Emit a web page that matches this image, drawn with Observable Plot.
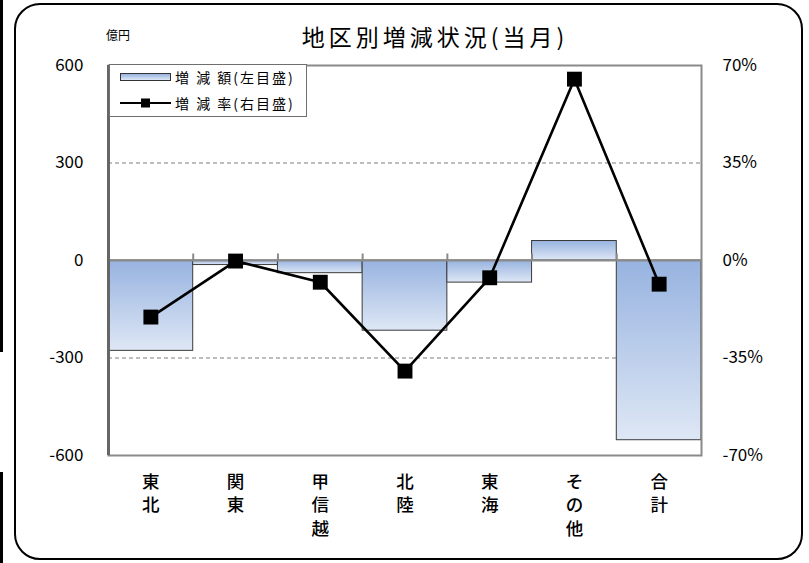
<!DOCTYPE html>
<html>
<head>
<meta charset="utf-8">
<script src="https://cdn.jsdelivr.net/npm/d3@7"></script>
<script src="https://cdn.jsdelivr.net/npm/@observablehq/plot@0.6"></script>
<style>
  body { margin: 0; background: #fff; }
  #wrap { position: relative; width: 809px; height: 563px; font-family: "Noto Sans CJK JP", sans-serif; color: #000; overflow: hidden; }
  #wrap svg.chart { position: absolute; left: 0; top: 0; }
  .edge { position: absolute; left: 0; width: 3px; background: #000; }
  #box { position: absolute; left: 14px; top: 3px; width: 789px; height: 557px; box-sizing: border-box; border: 2px solid #000; border-radius: 26px; }
  #title { position: absolute; left: 0; width: 870px; top: 21px; text-align: center; font-size: 23px; font-weight: 400; letter-spacing: 4px; line-height: 30px; }
  #unit { position: absolute; left: 106px; top: 26px; font-size: 12px; }
  #legend { position: absolute; left: 109px; top: 64px; width: 198px; height: 53px; box-sizing: border-box; border: 1px solid #6f6f6f; background: #fff; font-size: 14px; }
  .row { position: absolute; left: 10px; display: flex; align-items: center; height: 20px; }
  .row span { margin-left: 4px; white-space: pre; letter-spacing: 2px; }
  .sw { width: 49px; height: 6px; border: 1px solid #333; background: linear-gradient(#97b3e0, #dee7f5); }
  svg.chart g[aria-label="x-axis tick label"] { font-weight: 500; }
</style>
</head>
<body>
<div id="wrap">
  <div class="edge" style="top:0;height:352px"></div>
  <div class="edge" style="top:472px;height:91px"></div>
  <div id="box"></div>
  <div id="unit">億円</div>
  <div id="title">地区別増減状況(当月)</div>
</div>
<script>
// Regions and monthly change: amount (億円, left scale) and rate (%, right scale)
const regions = ["東北", "関東", "甲信越", "北陸", "東海", "その他", "合計"];
const amounts = [-278, -14, -39, -216, -68, 60, -553];
const rates = [-20.3, -0.2, -7.8, -39.7, -6.2, 65.1, -8.5];
const leftTicks = [600, 300, 0, -300, -600];
const rightTicks = ["70%", "35%", "0%", "-35%", "-70%"];
const legendLabels = ["増 減 額(左目盛)", "増 減 率(右目盛)"];

// right scale 70% corresponds to left scale 600
const rateToAmount = 600 / 70;
const rows = regions.map((r, i) => ({region: r, amount: amounts[i], rate: rates[i], rateY: rates[i] * rateToAmount}));

const W = 809, H = 563, mL = 108, mR = 108, mT = 65, mB = 108;
const bw = (W - mL - mR) / regions.length;
const font = "'Noto Sans CJK JP', sans-serif";

const chart = Plot.plot({
  width: W,
  height: H,
  marginLeft: mL,
  marginRight: mR,
  marginTop: mT,
  marginBottom: mB,
  x: {type: "band", domain: regions, padding: 0, round: false, label: null},
  y: {domain: [-600, 600], label: null},
  style: {fontFamily: font, fontSize: "16px", color: "#000", background: "transparent", overflow: "visible"},
  marks: [
    Plot.ruleY([300, -300], {stroke: "#7f7f7f", strokeWidth: 1.2, strokeDasharray: "4,3"}),
    Plot.barY(rows, {x: "region", y: "amount", fill: "url(#barGrad)", stroke: "#3a3a3a", strokeWidth: 1}),
    Plot.ruleY([0], {stroke: "#8a8a8a", strokeWidth: 2}),
    // category separators rising above the zero line
    Plot.ruleX(regions, {x: d => d, y1: 0, y2: 20, dx: -bw / 2, stroke: "#8a8a8a", strokeWidth: 2}),
    Plot.frame({stroke: "#8a8a8a", strokeWidth: 2}),
    Plot.ruleX([regions[0]], {x: d => d, dx: -bw / 2, stroke: "#666", strokeWidth: 3}),
    Plot.axisY({ticks: leftTicks, tickSize: 0, tickPadding: 25, tickFormat: d => String(d), fontSize: 17, label: null}),
    Plot.axisY({anchor: "right", ticks: leftTicks, tickSize: 0, tickPadding: 21,
      tickFormat: d => rightTicks[leftTicks.indexOf(d)], fontSize: 17, label: null}),
    Plot.axisX({tickSize: 0, tickPadding: 15.5, fontSize: 17.5, lineHeight: 1.35, label: null,
      tickFormat: d => [...d].join("\n")}),
    Plot.line(rows, {x: "region", y: "rateY", stroke: "#000", strokeWidth: 2.6}),
    Plot.dot(rows, {x: "region", y: "rateY", symbol: "square", r: 8.4, fill: "#000", stroke: "none"})
  ]
});
chart.classList.add("chart");

// vertical gradient used by the bars
const defs = d3.select(chart).insert("defs", ":first-child");
const grad = defs.append("linearGradient").attr("id", "barGrad")
  .attr("x1", 0).attr("y1", 0).attr("x2", 0).attr("y2", 1);
grad.append("stop").attr("offset", "0%").attr("stop-color", "#97b3e0");
grad.append("stop").attr("offset", "100%").attr("stop-color", "#dee7f5");

const wrap = document.getElementById("wrap");
wrap.insertBefore(chart, document.getElementById("box"));

// legend
const legend = document.createElement("div");
legend.id = "legend";
legend.innerHTML = `
  <div class="row" style="top:2px"><div class="sw"></div><span>${legendLabels[0]}</span></div>
  <div class="row" style="top:28px">
    <svg width="51" height="14"><line x1="0" y1="7" x2="51" y2="7" stroke="#000" stroke-width="2"/>
    <rect x="21" y="2.5" width="9" height="9" fill="#000"/></svg><span>${legendLabels[1]}</span></div>`;
wrap.appendChild(legend);
</script>
</body>
</html>
